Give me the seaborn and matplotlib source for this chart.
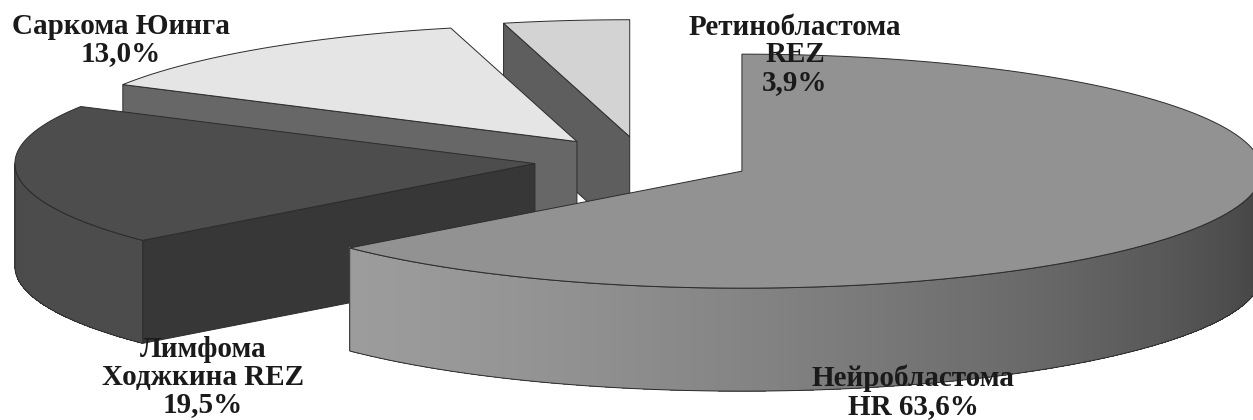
import numpy as np
import matplotlib
matplotlib.use("Agg")
import matplotlib.pyplot as plt
from matplotlib.patches import Polygon
import seaborn as sns

# Distribution of diagnoses (percent of patients)
labels = ["Нейробластома\nHR", "Лимфома\nХоджкина REZ", "Саркома Юинга", "Ретинобластома\nREZ"]
shares = [63.6, 19.5, 13.0, 3.9]
value_sep = [" ", "\n", "\n", "\n"]

sns.set_theme(style="white")
plt.rcParams["font.family"] = ["Liberation Serif", "DejaVu Serif"]

# Face shades per slice (grey levels 0-255)
top_grey = [146, 77, 229, 211]
radial_grey = [150, 55, 103, 94]
rim_grey = [152, 74, 110, 100]
edge_col = "#2c2c2c"

# Projection of the 3D pie
CX, CY = 643, 161
RX, RY = 520, 117
DEPTH = 103
EXPLODE = 0.209

label_pos = [(913, 392), (203, 377), (121, 40), (795, 55)]

fig = plt.figure(figsize=(12.53, 4.20), dpi=100)
ax = fig.add_axes([0, 0, 1, 1])
ax.set_xlim(0, 1253)
ax.set_ylim(420, 0)
ax.axis("off")

total = float(sum(shares))
bounds = np.concatenate([[0.0], np.cumsum(shares)]) / total * 360.0


def grey(v):
    v = int(np.clip(round(v), 0, 255))
    return "#{0:02x}{0:02x}{0:02x}".format(v)


def light(theta_deg):
    return (110 + 50 * np.cos(np.radians(theta_deg - 240))) / 155.0


def rim(cx, cy, th, dz=0.0):
    t = np.radians(th)
    return np.column_stack([cx + RX * np.sin(t), cy - RY * np.cos(t) + dz])


slices = []
for i, s in enumerate(shares):
    a, b = bounds[i], bounds[i + 1]
    mid = np.radians((a + b) / 2)
    sx = CX + EXPLODE * RX * np.sin(mid)
    sy = CY - EXPLODE * RY * np.cos(mid)
    slices.append((sy, i, a, b, sx))

# back to front
for sy, i, a, b, sx in sorted(slices):
    c_top = np.array([sx, sy])
    c_bot = np.array([sx, sy + DEPTH])
    # radial walls facing the viewer
    for ang, vis in ((a, np.sin(np.radians(a)) < -1e-6), (b, np.sin(np.radians(b)) > 1e-6)):
        if vis:
            p_top = rim(sx, sy, [ang])[0]
            p_bot = rim(sx, sy, [ang], DEPTH)[0]
            ax.add_patch(Polygon([c_top, p_top, p_bot, c_bot], closed=True,
                                 facecolor=grey(radial_grey[i]), edgecolor=edge_col,
                                 lw=0.7, zorder=2))
    # outer curved wall (front half only)
    lo, hi = max(a, 90.0), min(b, 270.0)
    if hi > lo:
        ths = np.linspace(lo, hi, 240)
        for t0, t1 in zip(ths[:-1], ths[1:]):
            seg = np.array([t0, t1])
            pts = np.vstack([rim(sx, sy, seg), rim(sx, sy, seg[::-1], DEPTH)])
            ax.add_patch(Polygon(pts, closed=True,
                                 facecolor=grey(rim_grey[i] * light((t0 + t1) / 2)),
                                 edgecolor="none", lw=0, antialiased=False, zorder=2))
        outline = np.vstack([rim(sx, sy, ths), rim(sx, sy, ths[::-1], DEPTH)])
        ax.add_patch(Polygon(outline, closed=True, facecolor="none",
                             edgecolor=edge_col, lw=0.7, zorder=2))
    # top face
    ths = np.linspace(a, b, 300)
    pts = np.vstack([c_top, rim(sx, sy, ths)])
    ax.add_patch(Polygon(pts, closed=True, facecolor=grey(top_grey[i]),
                         edgecolor=edge_col, lw=0.7, zorder=2))

for i, (name, val) in enumerate(zip(labels, shares)):
    txt = f"{name}{value_sep[i]}{val:.1f}%".replace(".", ",")
    x, y = label_pos[i]
    ax.text(x, y, txt, ha="center", va="center", multialignment="center",
            fontsize=21, fontweight="bold", color="#1a1a1a", linespacing=1.03,
            zorder=5)

fig.savefig("out.png", dpi=100, facecolor="white")
